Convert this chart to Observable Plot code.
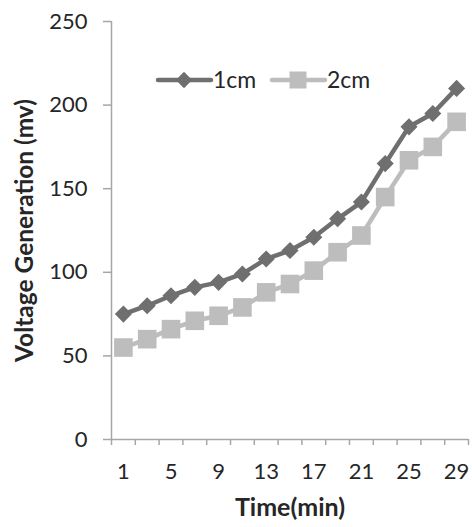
<!DOCTYPE html>
<html><head><meta charset="utf-8">
<script src="https://cdn.jsdelivr.net/npm/d3@7"></script>
<script src="https://cdn.jsdelivr.net/npm/@observablehq/plot@0.6"></script>
<style>
body{margin:0;background:#fff}
#chart{position:relative;width:472px;height:527px;font-family:Lato,"Open Sans",sans-serif}
#legend{position:absolute;left:155px;top:65px}
</style>
</head><body><div id="chart"><div id="legend"></div></div>
<script>
const times = [1,3,5,7,9,11,13,15,17,19,21,23,25,27,29];
const cm1 = [75,80,86,91,94,99,108,113,121,132,142,165,187,195,210];
const cm2 = [55,60,66,71,74,79,88,93,101,112,122,145,167,175,190];
const xTickLabels = [1,5,9,13,17,21,25,29];
const xBoundaries = [0,2,4,6,8,10,12,14,16,18,20,22,24,26,28,30];
const yTicks = [0,50,100,150,200,250];
const seriesNames = ["1cm","2cm"];
const seriesColors = ["#6f6f6f","#bdbdbd"];

const rows1 = times.map((t,i)=>({t, v:cm1[i], s:seriesNames[0]}));
const rows2 = times.map((t,i)=>({t, v:cm2[i], s:seriesNames[1]}));
const axisGray = "#a6a6a6";
const textColor = "#262626";

const chart = Plot.plot({
  width: 472,
  height: 527,
  marginLeft: 111,
  marginRight: 4,
  marginTop: 21,
  marginBottom: 88,
  style: {fontFamily: "Lato", fontSize: "22px", color: textColor, background: "#fff"},
  x: {domain: [0,30], axis: null},
  y: {domain: [0,250], axis: null},
  color: {domain: seriesNames, range: seriesColors},
  marks: [
    Plot.ruleX([0], {stroke: axisGray, strokeWidth: 1.5}),
    Plot.ruleY([0], {stroke: axisGray, strokeWidth: 1.5}),
    Plot.axisY(yTicks, {tickSize: 8, tickFormat: () => "", stroke: axisGray, strokeWidth: 1.5, label: null}),
    Plot.text(yTicks, {y: d => d, text: d => String(d), frameAnchor: "left", textAnchor: "end", lineAnchor: "middle", dx: -24, fontSize: 22, fill: textColor}),
    Plot.axisX(xBoundaries, {tickSize: 6, tickFormat: () => "", stroke: axisGray, strokeWidth: 1.5, label: null}),
    Plot.axisX(xTickLabels, {tickSize: 0, tickPadding: 24, fill: textColor, fontSize: 22, label: null}),
    Plot.text(["Voltage Generation (mv)"], {frameAnchor: "left", textAnchor: "middle", lineAnchor: "middle", dx: -86, rotate: -90, fontWeight: "bold", fontSize: 24.5, fill: textColor}),
    Plot.text(["Time(min)"], {frameAnchor: "bottom", lineAnchor: "middle", dy: 68, fontWeight: "bold", fontSize: 25, fill: textColor}),
    Plot.line(rows1, {x: "t", y: "v", stroke: "s", strokeWidth: 4.5}),
    Plot.dot(rows1, {x: "t", y: "v", fill: "s", symbol: "diamond2", r: 7.7, stroke: "none"}),
    Plot.line(rows2, {x: "t", y: "v", stroke: "s", strokeWidth: 4.5}),
    Plot.dot(rows2, {x: "t", y: "v", fill: "s", symbol: "square", r: 10.5, stroke: "none"})
  ]
});
document.getElementById("chart").prepend(chart);

// legend
const lg = d3.select("#legend").append("svg").attr("width", 230).attr("height", 30);
const itemX = [0, 114];
seriesNames.forEach((name, i) => {
  const g = lg.append("g").attr("transform", `translate(${itemX[i]},15)`);
  g.append("line").attr("x1", 3).attr("x2", 56).attr("stroke", seriesColors[i]).attr("stroke-width", 4.5).attr("stroke-linecap","round");
  const sym = i === 0 ? d3.symbolDiamond2 : d3.symbolSquare;
  const size = i === 0 ? 170 : 290;
  g.append("path").attr("d", d3.symbol(sym, size)()).attr("transform","translate(29,0)").attr("fill", seriesColors[i]);
  g.append("text").attr("x", 58).attr("y", 0).attr("dy","0.36em").attr("fill", textColor)
    .style("font-family","Lato").style("font-size","23px").text(name);
});
</script>
</body></html>
